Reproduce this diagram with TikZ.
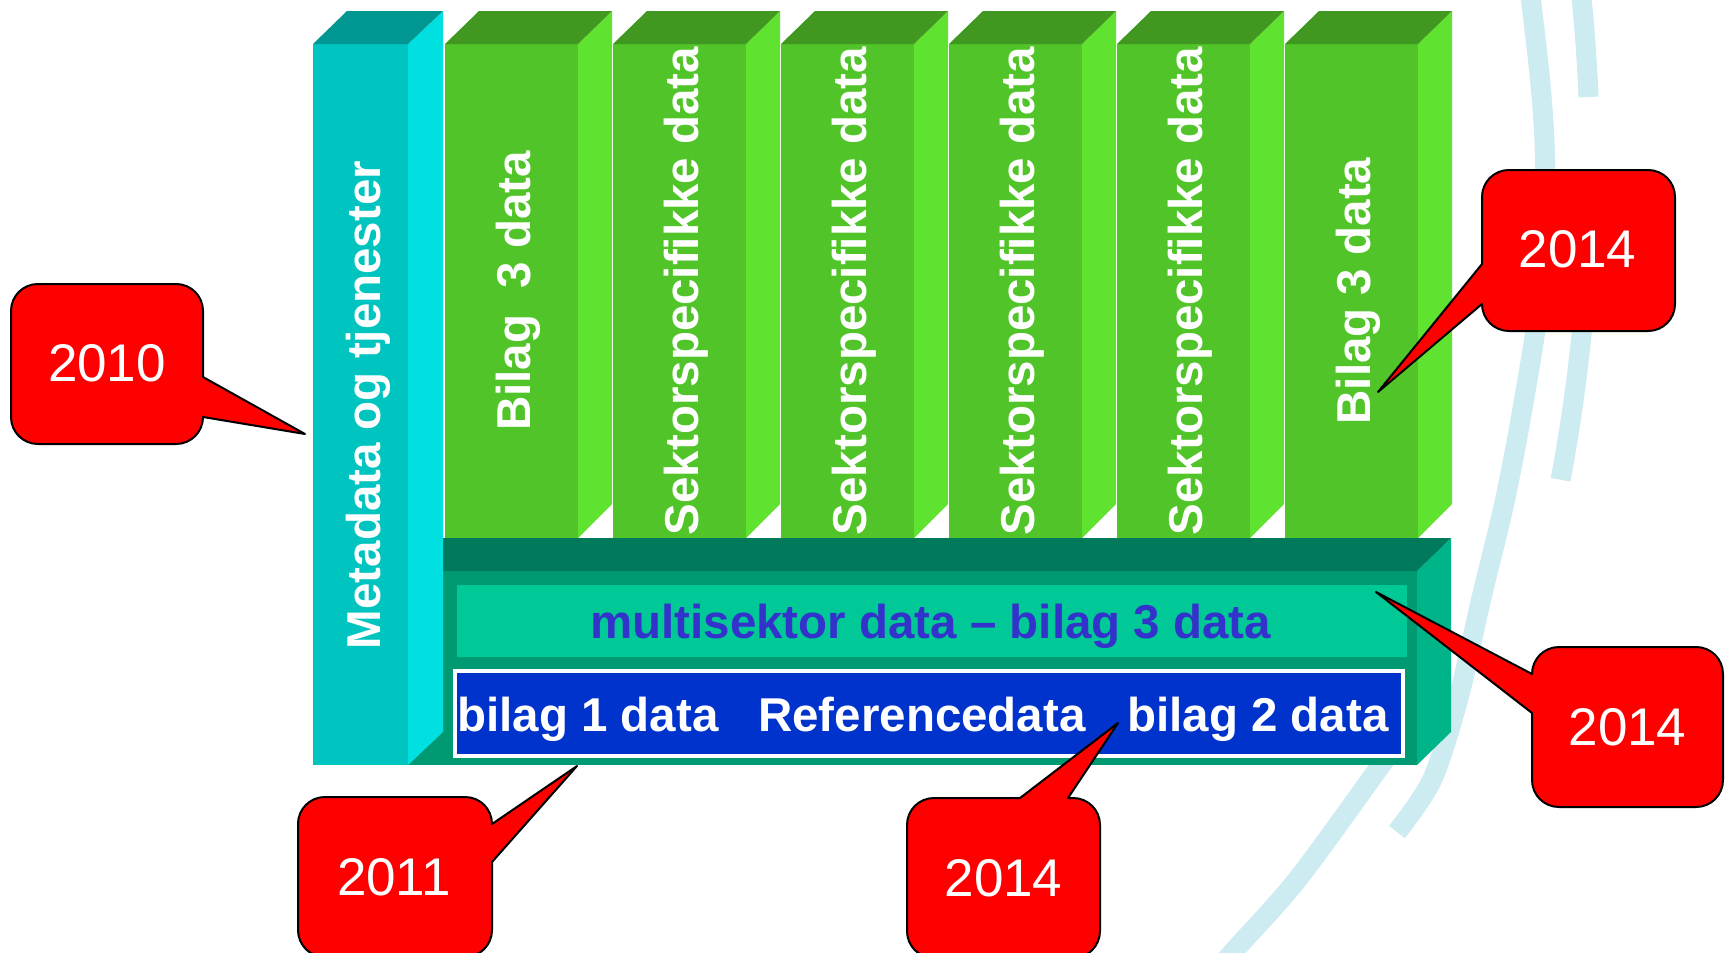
\documentclass[tikz,border=0pt]{standalone}
\usepackage{fontspec}
\setmainfont{Liberation Sans}
\definecolor{bandc}{RGB}{204,236,242}
\definecolor{grfront}{RGB}{80,196,40}
\definecolor{grside}{RGB}{96,226,48}
\definecolor{grtop}{RGB}{64,152,32}
\definecolor{cyfront}{RGB}{0,196,192}
\definecolor{cyside}{RGB}{0,224,224}
\definecolor{cytop}{RGB}{0,150,146}
\definecolor{tlfront}{RGB}{0,154,114}
\definecolor{tlside}{RGB}{0,180,138}
\definecolor{tltop}{RGB}{0,122,90}
\definecolor{msbox}{RGB}{0,200,150}
\definecolor{mstext}{RGB}{51,51,204}
\definecolor{bluebox}{RGB}{0,51,204}
\definecolor{calred}{RGB}{255,0,0}
\begin{document}
\begin{tikzpicture}[x=1pt,y=-1pt,
  band/.style={line width=20pt, draw=bandc, line cap=butt},
  callout/.style={fill=calred, draw=black, line width=2pt, line join=round},
  coltext/.style={text=white, font=\fontsize{47.5}{57}\selectfont\bfseries, inner sep=0pt, anchor=base, rotate=90},
  boxtext/.style={font=\fontsize{47.5}{57}\selectfont\bfseries, inner sep=0pt, anchor=base west},
  yeartext/.style={text=white, font=\fontsize{53}{64}\selectfont, inner sep=0pt}]
\useasboundingbox (0,0) rectangle (1725,953);
\clip (0,0) rectangle (1725,953);
\fill[white] (0,0) rectangle (1725,953);
% background arcs
\draw[band] plot[smooth] coordinates {(1528,-20) (1531,0) (1541,90) (1545,170) (1539,300) (1524,400) (1505,500) (1481,600) (1458,700) (1432,780) (1397,832)};
\draw[band] plot[domain=-6.4:-2.34, samples=15] ({-100+1690*cos(\x)},{166+1690*sin(\x)});
\draw[band] plot[domain=1.2:10.7, samples=30] ({-100+1690*cos(\x)},{166+1690*sin(\x)});
\draw[band] plot[smooth] coordinates {(1435,690) (1381,765) (1297,880) (1232,953) (1200,990)};
% teal base box
\fill[tlfront] (400,571) rectangle (1417,765);
\fill[tlside] (1417,571) -- (1451,538) -- (1451,732) -- (1417,765) -- cycle;
\fill[tltop] (400,571) -- (1417,571) -- (1451,538) -- (400,538) -- cycle;
% green columns
\foreach \i in {0,...,5}{
  \pgfmathsetmacro\xa{445+168*\i}
  \fill[grfront] (\xa,44) rectangle ({\xa+133},538);
  \fill[grside] ({\xa+133},44) -- ({\xa+167},11) -- ({\xa+167},504) -- ({\xa+133},538) -- cycle;
  \fill[grtop] (\xa,44) -- ({\xa+133},44) -- ({\xa+167},11) -- ({\xa+34},11) -- cycle;
}
% cyan pillar
\fill[cyfront] (313,44) rectangle (408,765);
\fill[cyside] (408,44) -- (443,11) -- (443,732) -- (408,765) -- cycle;
\fill[cytop] (313,44) -- (408,44) -- (443,11) -- (347,11) -- cycle;
% inner boxes
\fill[msbox] (457,585) rectangle (1407,657);
\filldraw[fill=bluebox, draw=white, line width=4pt] (455,671) rectangle (1403,756);
% texts
\node[coltext] (meta) at (380,405) {Metadata og tjenester};
\node[coltext] (c1) at (530.5,291) {Bilag\ \ 3 data};
\node[coltext] (c2) at (698.5,291) {Sektorspecifikke data};
\node[coltext] (c3) at (866.5,291) {Sektorspecifikke data};
\node[coltext] (c4) at (1034.5,291) {Sektorspecifikke data};
\node[coltext] (c5) at (1202.5,291) {Sektorspecifikke data};
\node[coltext] (c6) at (1370.5,291) {Bilag 3 data};
\node[boxtext, text=mstext] (ms) at (590,638) {multisektor data – bilag 3 data};
\node[boxtext, text=white] (b1) at (457,731) {bilag 1 data};
\node[boxtext, text=white] (ref) at (758,731) {Referencedata};
\node[boxtext, text=white] (b2) at (1127,731) {bilag 2 data};
% callouts
\draw[callout] (11,311) .. controls (11,296) and (23,284) .. (38,284) -- (176,284) .. controls (191,284) and (203,296) .. (203,311) -- (203,377) -- (305,434) -- (203,417) .. controls (203,432) and (191,444) .. (176,444) -- (38,444) .. controls (23,444) and (11,432) .. (11,417) -- cycle;
\node[yeartext] (y2010) at (107,363) {2010};
\draw[callout] (298,824) .. controls (298,809) and (310,797) .. (325,797) -- (465,797) .. controls (480,797) and (492,809) .. (492,824) -- (577,766) -- (492,862) -- (492,930) .. controls (492,945) and (480,957) .. (465,957) -- (325,957) .. controls (310,957) and (298,945) .. (298,930) -- cycle;
\node[yeartext] (y2011) at (394,877) {2011};
\draw[callout] (907,825) .. controls (907,810) and (919,798) .. (934,798) -- (1020,798) -- (1118,723) -- (1068,798) -- (1073,798) .. controls (1088,798) and (1100,810) .. (1100,825) -- (1100,931) .. controls (1100,946) and (1088,958) .. (1073,958) -- (934,958) .. controls (919,958) and (907,946) .. (907,931) -- cycle;
\node[yeartext] (y2014a) at (1003.5,878) {2014};
\draw[callout] (1532,674) -- (1376,592) -- (1532,713) -- (1532,780) .. controls (1532,795) and (1544,807) .. (1559,807) -- (1696,807) .. controls (1711,807) and (1723,795) .. (1723,780) -- (1723,674) .. controls (1723,659) and (1711,647) .. (1696,647) -- (1559,647) .. controls (1544,647) and (1532,659) .. (1532,674) -- cycle;
\node[yeartext] (y2014b) at (1627.5,727) {2014};
\draw[callout] (1482,197) .. controls (1482,182) and (1494,170) .. (1509,170) -- (1648,170) .. controls (1663,170) and (1675,182) .. (1675,197) -- (1675,304) .. controls (1675,319) and (1663,331) .. (1648,331) -- (1509,331) .. controls (1494,331) and (1482,319) .. (1482,304) -- (1378,392) -- (1482,264) -- cycle;
\node[yeartext] (y2014c) at (1577.5,249) {2014};
\end{tikzpicture}
\end{document}
